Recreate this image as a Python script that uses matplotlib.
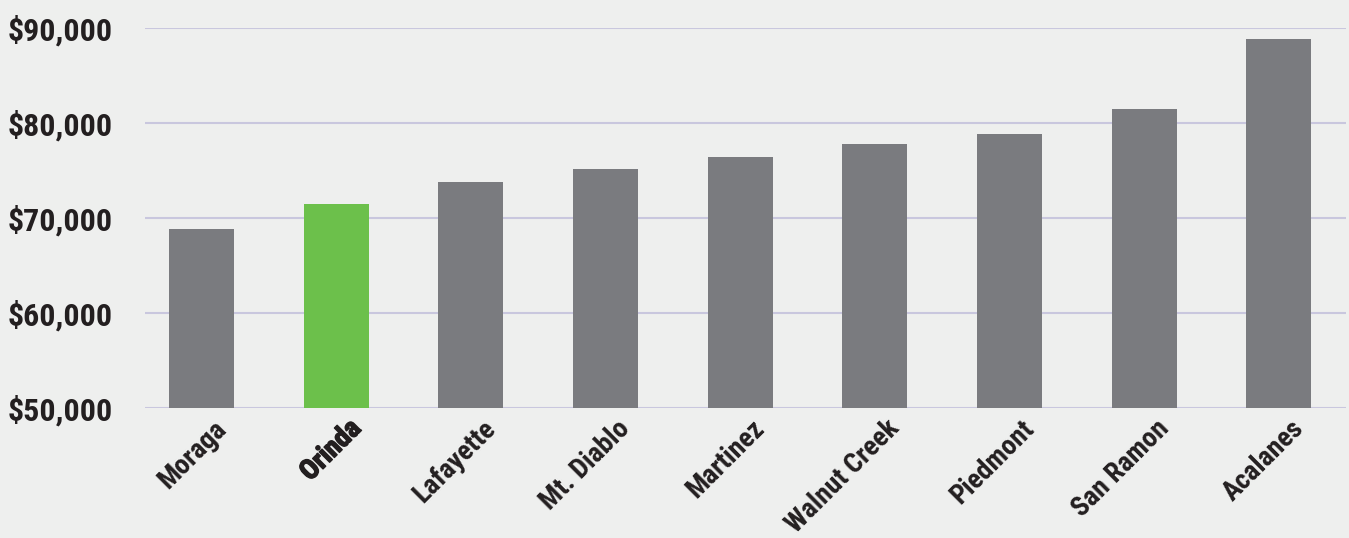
import matplotlib
matplotlib.use("Agg")
import matplotlib.pyplot as plt
import matplotlib.patheffects as pe
from matplotlib.ticker import FuncFormatter

districts = ["Moraga", "Orinda", "Lafayette", "Mt. Diablo", "Martinez",
             "Walnut Creek", "Piedmont", "San Ramon", "Acalanes"]
salaries = [68850, 71450, 73750, 75150, 76400, 77750, 78800, 81450, 88800]
highlight = "Orinda"
yticks = [50000, 60000, 70000, 80000, 90000]

BG = "#eeefee"
GRAY = "#7a7b7f"
GREEN = "#6cc04b"
GRID = "#c9c7de"
TXT = "#231f20"
FONT = ["Roboto Condensed", "Liberation Sans Narrow", "DejaVu Sans"]

fig = plt.figure(figsize=(13.49, 5.38), dpi=100, facecolor=BG)
W, H = 1349, 538
ax = fig.add_axes([145 / W, (H - 408) / H, (1346 - 145) / W, (408 - 27.5) / H])
ax.set_facecolor(BG)

x = list(range(len(districts)))
colors = [GREEN if d == highlight else GRAY for d in districts]
ax.bar(x, salaries, width=0.483, color=colors, zorder=3)

ax.set_ylim(50000, 90000)
ax.set_xlim(-0.42, 8.5)
ax.set_yticks(yticks)
ax.yaxis.set_major_formatter(FuncFormatter(lambda v, p: f"${v:,.0f}"))
ax.grid(axis="y", color=GRID, linewidth=1.5, zorder=0)
for s in ax.spines.values():
    s.set_visible(False)
ax.tick_params(axis="y", length=0, pad=23, labelsize=23, labelcolor=TXT)
ax.tick_params(axis="x", length=0)
for lab in ax.get_yticklabels():
    lab.set_fontfamily(FONT)
    lab.set_fontweight("bold")

ax.set_xticks(x)
ax.set_xticklabels([])
for i, d in enumerate(districts):
    t = ax.annotate(d, xy=(i, 50000), xycoords="data", xytext=(11, -7),
                    textcoords="offset pixels", rotation=45, ha="right", va="top",
                    rotation_mode="anchor", fontsize=20, color=TXT,
                    family=FONT, fontweight="bold",
                    annotation_clip=False)
    if d == highlight:
        t.set_path_effects([pe.withStroke(linewidth=1.0, foreground=TXT)])

fig.savefig("out.png", dpi=100, facecolor=BG)
